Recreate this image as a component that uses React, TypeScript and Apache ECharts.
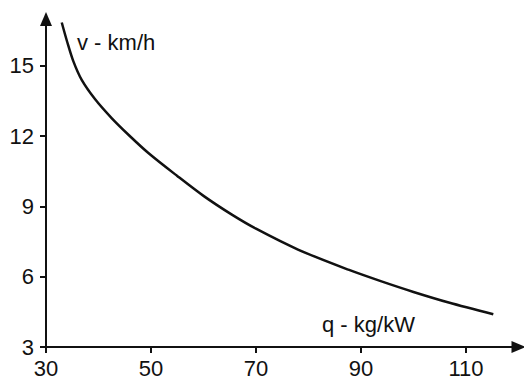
import React, { useEffect, useRef } from "react";
import * as echarts from "echarts";

const qValues = [33.0, 34.0, 35.2, 36.8, 39.4, 42.5, 45.7, 49.5, 55.0, 60.0, 65.4, 70.0, 78.1, 87.6, 93.9, 100.0, 106.7, 115.2];
const vValues = [16.85, 16.05, 15.2, 14.4, 13.56, 12.77, 12.06, 11.28, 10.3, 9.45, 8.65, 8.05, 7.15, 6.3, 5.8, 5.35, 4.9, 4.4];
const xTicks = [30, 50, 70, 90, 110];
const yTicks = [3, 6, 9, 12, 15];
const xName = "q - kg/kW";
const yName = "v - km/h";

export default function App() {
  const ref = useRef<HTMLDivElement>(null);
  useEffect(() => {
    if (!ref.current) return;
    const chart = echarts.init(ref.current, undefined, { renderer: "svg" });
    const font = "Liberation Sans, Arial, sans-serif";
    const axisColor = "#111";
    chart.setOption({
      animation: false,
      backgroundColor: "#fff",
      grid: { left: 46, right: 5.5, top: 19, bottom: 38 },
      xAxis: {
        type: "value",
        min: 30,
        max: 120,
        splitLine: { show: false },
        axisLine: {
          show: true,
          onZero: false,
          symbol: ["none", "triangle"],
          symbolSize: [12, 14],
          lineStyle: { color: axisColor, width: 2 },
        },
        axisTick: { show: true, length: 6, customValues: xTicks, lineStyle: { color: axisColor, width: 2 } },
        axisLabel: { customValues: xTicks, margin: 10, fontSize: 22, fontFamily: font, color: axisColor },
      },
      yAxis: {
        type: "value",
        min: 3,
        max: 17,
        splitLine: { show: false },
        axisLine: {
          show: true,
          onZero: false,
          symbol: ["none", "triangle"],
          symbolSize: [12, 14],
          lineStyle: { color: axisColor, width: 2 },
        },
        axisTick: { show: true, length: 6, customValues: yTicks, lineStyle: { color: axisColor, width: 2 } },
        axisLabel: { customValues: yTicks, margin: 12, fontSize: 22, fontFamily: font, color: axisColor },
      },
      graphic: [
        {
          type: "text",
          x: 77,
          y: 31,
          style: { text: yName, font: `22px ${font}`, fill: axisColor, textAlign: "left", textVerticalAlign: "top" },
        },
        {
          type: "text",
          x: 322,
          y: 313,
          style: { text: xName, font: `22px ${font}`, fill: axisColor, textAlign: "left", textVerticalAlign: "top" },
        },
      ],
      series: [
        {
          type: "line",
          data: qValues.map((q, i) => [q, vValues[i]]),
          smooth: 0.3,
          showSymbol: false,
          lineStyle: { color: "#111", width: 2.5 },
        },
      ],
    });
    return () => chart.dispose();
  }, []);
  return <div ref={ref} style={{ width: 524, height: 385, position: "absolute", left: 0, top: 0 }} />;
}
